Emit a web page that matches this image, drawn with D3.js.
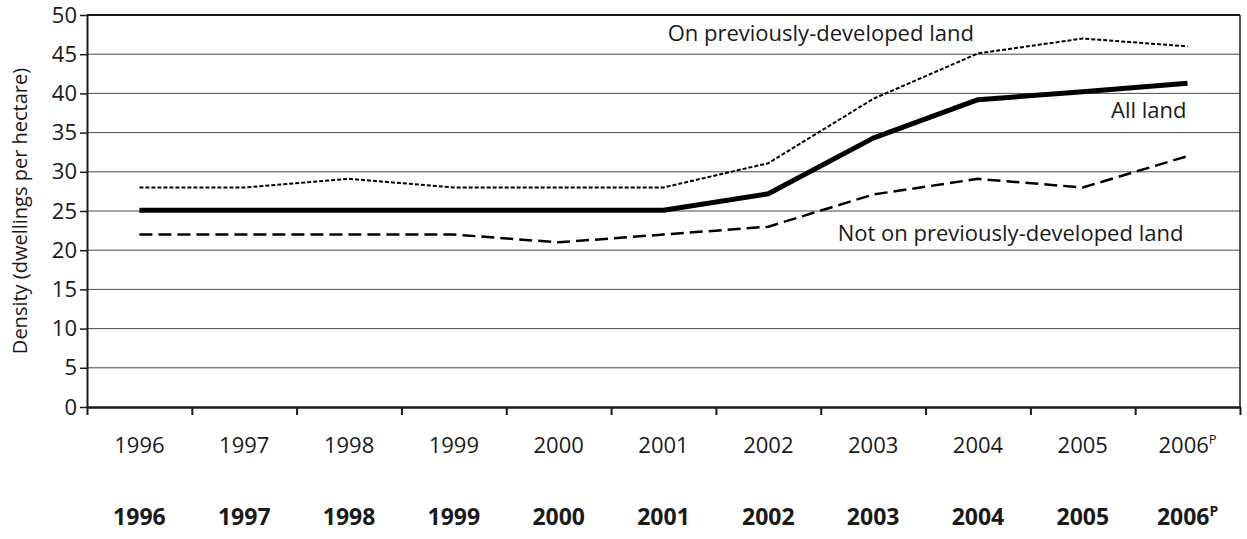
<!DOCTYPE html>
<html>
  <head>
    <meta charset="UTF-8">
    <style>
      body {
        margin: 0;
        background: white;
        font-family: "Open Sans", "Noto Sans", Arial, sans-serif;
      }
      svg text {
        fill: #1a1a1a;
      }
    </style>
    <script type="text/javascript" src="https://cdn.jsdelivr.net/npm/d3@7"></script>
  </head>
  <body>
    <svg id="Chart"></svg>

    <script type="text/javascript">
      // data
      let years = ['1996', '1997', '1998', '1999', '2000', '2001', '2002', '2003', '2004', '2005', '2006'];
      let provisionalYear = '2006';
      let onPreviouslyDeveloped = [28, 28, 29.1, 28, 28, 28, 31.1, 39.3, 45.1, 47, 46];
      let allLand = [25.1, 25.1, 25.1, 25.1, 25.1, 25.1, 27.2, 34.3, 39.2, 40.2, 41.3];
      let notOnPreviouslyDeveloped = [22, 22, 22, 22, 21, 22, 23, 27.1, 29.1, 28, 32];
      let yTicks = [0, 5, 10, 15, 20, 25, 30, 35, 40, 45, 50];
      let yLabel = 'Density (dwellings per hectare)';

      let series = [
        {name: 'On previously-developed land', values: onPreviouslyDeveloped},
        {name: 'All land', values: allLand},
        {name: 'Not on previously-developed land', values: notOnPreviouslyDeveloped}
      ];

      function getConfig() {
        let width = 1247;
        let height = 539;
        let margin = {top: 15, left: 87, right: 7, bottom: 132};
        let bodyWidth = width - margin.left - margin.right;
        let bodyHeight = height - margin.top - margin.bottom;
        let container = d3.select('#Chart')
          .attr('width', width)
          .attr('height', height);
        return {width, height, margin, bodyWidth, bodyHeight, container};
      }

      function getScales(config) {
        let {bodyWidth, bodyHeight} = config;
        let xBand = d3.scaleBand()
          .domain(years)
          .range([0, bodyWidth])
          .padding(0);
        let xEdge = d3.scaleLinear()
          .domain([0, years.length])
          .range([0, bodyWidth]);
        let yScale = d3.scaleLinear()
          .domain([0, 50])
          .range([bodyHeight, 0]);
        return {xBand, xEdge, yScale};
      }

      function drawGrid(scales, config) {
        let {container, margin, bodyWidth} = config;
        let {yScale} = scales;
        let body = container.append('g')
          .attr('transform', `translate(${margin.left},${margin.top})`);

        body.selectAll('.grid')
          .data(yTicks.filter(t => t > 0 && t < 50))
          .enter()
          .append('line')
          .attr('x1', 0)
          .attr('x2', bodyWidth)
          .attr('y1', d => yScale(d))
          .attr('y2', d => yScale(d))
          .attr('stroke', '#4a4a4a')
          .attr('stroke-width', 1);

        // frame: top and right
        body.append('line')
          .attr('x1', 0).attr('x2', bodyWidth)
          .attr('y1', yScale(50)).attr('y2', yScale(50))
          .attr('stroke', '#1a1a1a').attr('stroke-width', 2);
        body.append('line')
          .attr('x1', bodyWidth).attr('x2', bodyWidth)
          .attr('y1', yScale(50)).attr('y2', yScale(0))
          .attr('stroke', '#1a1a1a').attr('stroke-width', 1.5);
      }

      function drawLines(scales, config) {
        let {container, margin} = config;
        let {xBand, yScale} = scales;
        let body = container.append('g')
          .attr('transform', `translate(${margin.left},${margin.top})`);

        let line = d3.line()
          .x((d, i) => xBand(years[i]) + xBand.bandwidth() / 2)
          .y(d => yScale(d));

        let styles = [
          {width: 2, dash: '4,2'},
          {width: 5, dash: null},
          {width: 2.5, dash: '13,6'}
        ];

        body.selectAll('.series')
          .data(series)
          .enter()
          .append('path')
          .attr('d', d => line(d.values))
          .attr('fill', 'none')
          .attr('stroke', '#000')
          .attr('stroke-width', (d, i) => styles[i].width)
          .attr('stroke-dasharray', (d, i) => styles[i].dash)
          .attr('stroke-linejoin', 'round');

        // series labels placed in chart units
        let labelPos = [
          {x: 5.54, y: 47.7, anchor: 'start'},
          {x: 10.49, y: 37.9, anchor: 'end'},
          {x: 10.46, y: 22.2, anchor: 'end'}
        ];
        let xEdge = scales.xEdge;
        body.selectAll('.label')
          .data(series)
          .enter()
          .append('text')
          .attr('x', (d, i) => xEdge(labelPos[i].x))
          .attr('y', (d, i) => yScale(labelPos[i].y))
          .attr('dy', '0.35em')
          .attr('text-anchor', (d, i) => labelPos[i].anchor)
          .style('font-size', '22px')
          .text(d => d.name);
      }

      function addSuperscript(selection, size) {
        selection.each(function(d) {
          if (d === provisionalYear) {
            d3.select(this).append('tspan')
              .attr('baseline-shift', 'super')
              .style('font-size', size)
              .text('P');
          }
        });
      }

      function drawAxes(scales, config) {
        let {container, margin, bodyHeight} = config;
        let {xBand, xEdge, yScale} = scales;

        // y axis
        let axisY = d3.axisLeft(yScale)
          .tickValues(yTicks)
          .tickSize(7)
          .tickPadding(3)
          .tickSizeOuter(0);
        let gy = container.append('g')
          .attr('transform', `translate(${margin.left},${margin.top})`)
          .call(axisY);
        gy.select('.domain').attr('stroke', '#1a1a1a').attr('stroke-width', 2);
        gy.selectAll('.tick line').attr('stroke', '#1a1a1a').attr('stroke-width', 1.5);
        gy.selectAll('.tick text')
          .style('font-size', '22px')
          .style('font-family', '"Open Sans", sans-serif')
          .attr('fill', '#1a1a1a');

        // x axis line with ticks at category edges
        let axisEdges = d3.axisBottom(xEdge)
          .tickValues(d3.range(0, years.length + 1))
          .tickFormat('')
          .tickSize(8)
          .tickSizeOuter(0);
        let gx = container.append('g')
          .attr('transform', `translate(${margin.left},${margin.top + bodyHeight})`)
          .call(axisEdges);
        gx.select('.domain').attr('stroke', '#1a1a1a').attr('stroke-width', 2.5);
        gx.selectAll('.tick line').attr('stroke', '#1a1a1a').attr('stroke-width', 2);

        // category labels, regular row
        let axisLabels = d3.axisBottom(xBand).tickSize(0).tickPadding(0);
        let gl = container.append('g')
          .attr('transform', `translate(${margin.left},${margin.top + bodyHeight})`)
          .call(axisLabels);
        gl.select('.domain').remove();
        gl.selectAll('.tick text')
          .attr('y', 38)
          .attr('dy', '0.35em')
          .style('font-size', '22px')
          .style('font-family', '"Open Sans", sans-serif')
          .attr('fill', '#1a1a1a')
          .call(addSuperscript, '13px');

        // category labels, bold row
        let gb = container.append('g')
          .attr('transform', `translate(${margin.left},${margin.top + bodyHeight})`)
          .call(axisLabels);
        gb.select('.domain').remove();
        gb.selectAll('.tick text')
          .attr('y', 110)
          .attr('dy', '0.35em')
          .style('font-size', '23px')
          .style('font-weight', 'bold')
          .style('font-family', '"Open Sans", sans-serif')
          .attr('fill', '#111')
          .call(addSuperscript, '14px');

        // y axis title
        container.append('text')
          .attr('transform', `translate(20,${margin.top + bodyHeight / 2}) rotate(-90)`)
          .attr('text-anchor', 'middle')
          .attr('dy', '0.35em')
          .style('font-size', '20px')
          .text(yLabel);
      }

      function drawChart() {
        let config = getConfig();
        let scales = getScales(config);
        drawGrid(scales, config);
        drawLines(scales, config);
        drawAxes(scales, config);
      }

      drawChart();
    </script>
  </body>
</html>
